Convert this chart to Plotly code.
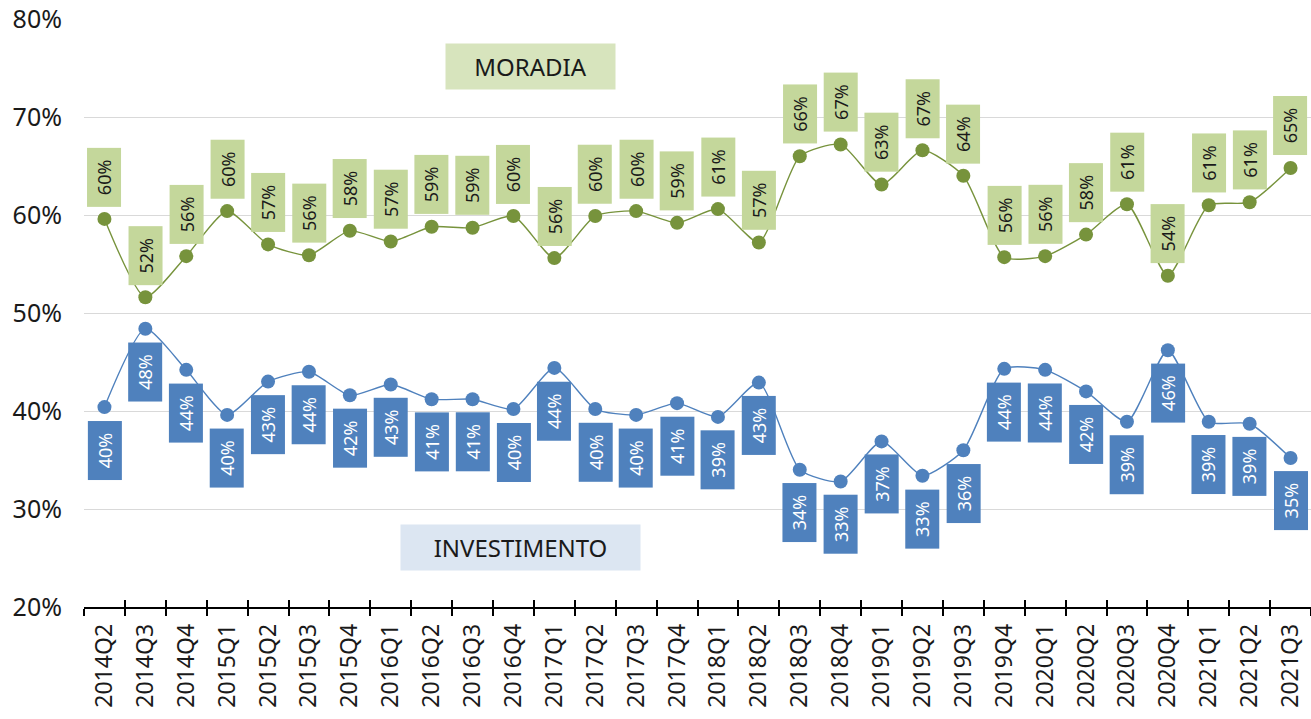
import plotly.graph_objects as go

categories = ["2014Q2", "2014Q3", "2014Q4", "2015Q1", "2015Q2", "2015Q3", "2015Q4",
              "2016Q1", "2016Q2", "2016Q3", "2016Q4", "2017Q1", "2017Q2", "2017Q3",
              "2017Q4", "2018Q1", "2018Q2", "2018Q3", "2018Q4", "2019Q1", "2019Q2",
              "2019Q3", "2019Q4", "2020Q1", "2020Q2", "2020Q3", "2020Q4", "2021Q1",
              "2021Q2", "2021Q3"]

moradia = [59.6, 51.6, 55.8, 60.4, 57.0, 55.9, 58.4, 57.3, 58.8, 58.7, 59.9, 55.6,
           59.9, 60.4, 59.2, 60.6, 57.2, 66.0, 67.2, 63.1, 66.6, 64.0, 55.7, 55.8,
           58.0, 61.1, 53.8, 61.0, 61.3, 64.8]

investimento = [40.4, 48.4, 44.2, 39.6, 43.0, 44.0, 41.6, 42.7, 41.2, 41.2, 40.2, 44.4,
                40.2, 39.6, 40.8, 39.4, 42.9, 34.0, 32.8, 36.9, 33.4, 36.0, 44.3, 44.2,
                42.0, 38.9, 46.2, 38.9, 38.7, 35.2]

series_names = ["MORADIA", "INVESTIMENTO"]

GREEN = "#77933C"
GREEN_BOX = "#C4D79B"
GREEN_LEG = "#D7E4BD"
BLUE = "#4F81BD"
BLUE_LEG = "#DCE6F2"
FONT = "Noto Sans"

fig = go.Figure()

fig.add_trace(go.Scatter(
    x=categories, y=moradia, mode="lines+markers", name=series_names[0],
    line=dict(color=GREEN, width=1.4, shape="spline", smoothing=0.6),
    marker=dict(color=GREEN, size=14), showlegend=False))

fig.add_trace(go.Scatter(
    x=categories, y=investimento, mode="lines+markers", name=series_names[1],
    line=dict(color=BLUE, width=1.4, shape="spline", smoothing=0.6),
    marker=dict(color=BLUE, size=14), showlegend=False))

# invisible trace to carry the overlay axis (inside ticks)
fig.add_trace(go.Scatter(x=categories, y=moradia, xaxis="x2", mode="markers",
                         marker=dict(opacity=0), hoverinfo="skip", showlegend=False))

annotations = []
for c, v in zip(categories, moradia):
    annotations.append(dict(
        x=c, y=v, xref="x", yref="y", text=f"{round(v):d}%", showarrow=False,
        textangle=-90, yshift=42, bgcolor=GREEN_BOX, width=56, height=31,
        font=dict(family=FONT, size=18, color="#1a1a1a")))
for c, v in zip(categories, investimento):
    annotations.append(dict(
        x=c, y=v, xref="x", yref="y", text=f"{round(v):d}%", showarrow=False,
        textangle=-90, yshift=-43, bgcolor=BLUE, width=56, height=31,
        font=dict(family=FONT, size=18, color="white")))

annotations.append(dict(
    x=(530 - 84) / 1227, y=(607 - 66) / 588, xref="paper", yref="paper",
    text=series_names[0], showarrow=False, bgcolor=GREEN_LEG, width=167, height=43,
    font=dict(family=FONT, size=24, color="#1a1a1a"), xanchor="center", yanchor="middle"))
annotations.append(dict(
    x=(520 - 84) / 1227, y=(607 - 547) / 588, xref="paper", yref="paper",
    text=series_names[1], showarrow=False, bgcolor=BLUE_LEG, width=237, height=43,
    font=dict(family=FONT, size=24, color="#1a1a1a"), xanchor="center", yanchor="middle"))

fig.update_layout(
    width=1311, height=719,
    margin=dict(l=84, r=0, t=19, b=112, autoexpand=False),
    plot_bgcolor="white", paper_bgcolor="white",
    font=dict(family=FONT, color="#262626"),
    annotations=annotations,
    xaxis=dict(type="category", categoryorder="array", categoryarray=categories,
               range=[-0.5, len(categories) - 0.5], automargin=False,
               showline=True, linecolor="black", linewidth=1.5,
               ticks="outside", ticklen=7, tickwidth=1.5, tickcolor="black",
               tickson="boundaries", tickangle=-90, showgrid=False,
               tickfont=dict(family=FONT, size=23, color="#1a1a1a"),
               ticklabelstandoff=6, ticklabeloverflow="allow"),
    xaxis2=dict(type="category", categoryorder="array", categoryarray=categories,
                range=[-0.5, len(categories) - 0.5], overlaying="x", anchor="y",
                side="bottom", matches="x", automargin=False,
                ticks="inside", ticklen=7, tickwidth=1.5, tickcolor="black",
                tickson="boundaries", showticklabels=False, showgrid=False,
                showline=False),
    yaxis=dict(range=[20, 80], dtick=10, ticksuffix="%", showgrid=True, automargin=False,
               gridcolor="#D9D9D9", gridwidth=1.2, zeroline=False, showline=False,
               tickfont=dict(family=FONT, size=25, color="#1a1a1a"),
               ticklabelstandoff=21, ticklabeloverflow="allow"),
)

# remove the browser's default 8px page margin so the figure fills the window
fig.write_html("out.html", config={"displayModeBar": False},
               post_script="document.body.style.margin='0';")
